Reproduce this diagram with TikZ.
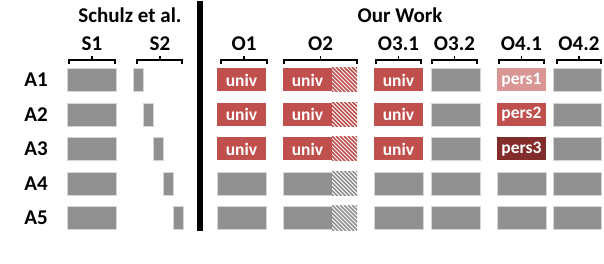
\documentclass[tikz,border=0pt]{standalone}
\usepackage{fontspec}
\setmainfont{Carlito}
\definecolor{boxgray}{HTML}{909090}
\definecolor{edgegray}{HTML}{D6D6D6}
\definecolor{univred}{HTML}{C0504D}
\definecolor{lightred}{HTML}{D99694}
\definecolor{darkred}{HTML}{832C2C}
\newcommand{\myhatch}[4]{%
  \begin{scope}
    \clip (#1,#3-12) rectangle (#2,#3+12);
    \fill[white] (#1,#3-12) rectangle (#2,#3+12);
    \foreach \k in {-8,...,8} \draw[#4, line width=1.5pt] ({#1+\k*4},#3-13) -- ++(26,26);
  \end{scope}}
\begin{document}
\begin{tikzpicture}[x=1pt,y=-1pt,
  lbl/.style={font=\bfseries\fontsize{21}{22}\selectfont, inner sep=0pt, anchor=center},
  cellbox/.style={minimum height=23pt, inner sep=0pt, anchor=center, text=white,
     font=\bfseries\fontsize{17.5}{18}\selectfont},
  gbox/.style={cellbox, fill=boxgray, draw=edgegray, line width=0.9pt},
  rbox/.style={cellbox, fill=univred},
  brk/.style={line width=1.2pt, black}]
\useasboundingbox (0,0) rectangle (604,264);

% headers
\node[lbl] (hs) at (130,15) {Schulz et al.};
\node[lbl] (ho) at (400,15) {Our Work};
\draw[line width=5.5pt] (200,1) -- (200,231);

% column labels
\foreach \nm/\xm/\xa/\xb/\tx in {s1/92/69/115/S1, s2/160/137/182/S2, o1/244/221/267/O1, o2/320.5/284/357/O2,
    o31/398.5/376/421/O3.1, o32/454.5/432/477/O3.2, o41/521.5/499/544/O4.1, o42/579/557/601/O4.2}{
  \node[lbl] (\nm) at (\xm,44) {\tx};
  \draw[brk] (\xa,64) -- (\xa,60) -- (\xb,60) -- (\xb,64);
  \draw[brk] (\xm,60) -- (\xm,56.5);
}

% row labels
\foreach \r/\y in {1/80,2/114.5,3/149,4/183.5,5/218}{
  \node[lbl] (a\r) at (36,\y) {A\r};
  \node[gbox, minimum width=49pt] (s1a\r) at (91.5,\y) {};
  \node[gbox, minimum width=10pt] (s2a\r) at ({128+10*\r},\y) {};
  \node[gbox, minimum width=49pt] (o32a\r) at (455.5,\y) {};
  \node[gbox, minimum width=48pt] (o42a\r) at (577,\y) {};
}
% red univ cells
\foreach \r/\y in {1/80,2/114.5,3/149}{
  \node[rbox, minimum width=49pt] (o1a\r) at (241.5,\y) {univ};
  \node[rbox, minimum width=49pt] (o2a\r) at (307.5,\y) {univ};
  \myhatch{332}{357}{\y}{univred}
  \node[rbox, minimum width=49pt] (o31a\r) at (398.5,\y) {univ};
}
\foreach \r/\y in {4/183.5,5/218}{
  \node[gbox, minimum width=49pt] (o1a\r) at (241.5,\y) {};
  \node[gbox, minimum width=49pt] (o2a\r) at (307.5,\y) {};
  \myhatch{332}{357}{\y}{boxgray}
  \node[gbox, minimum width=49pt] (o31a\r) at (398.5,\y) {};
  \node[gbox, minimum width=49pt] (o41a\r) at (521.5,\y) {};
}
\node[cellbox, fill=lightred, minimum width=49pt] (o41a1) at (521.5,80) {pers1};
\node[cellbox, fill=univred, minimum width=49pt] (o41a2) at (521.5,114.5) {pers2};
\node[cellbox, fill=darkred, minimum width=49pt] (o41a3) at (521.5,149) {pers3};
\end{tikzpicture}
\end{document}
